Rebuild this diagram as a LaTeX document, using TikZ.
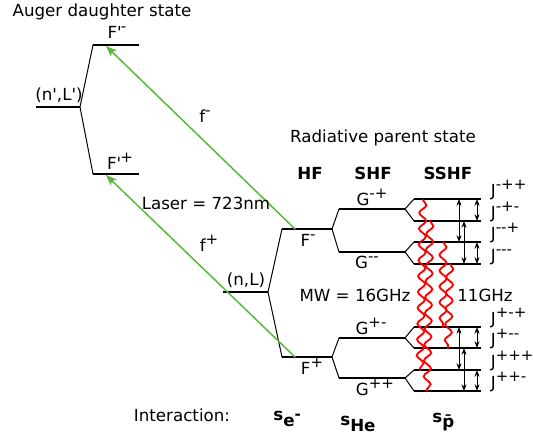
\documentclass[tikz,border=0pt]{standalone}
\usepackage{fontspec}
\setmainfont{DejaVu Sans}[Ligatures=TeXOff]
\usetikzlibrary{arrows.meta,calc,decorations.pathmorphing}
\definecolor{lasergreen}{RGB}{88,184,62}
\newcommand\raised[1]{\raisebox{.42em}{\small #1}}
\newcommand\lowered[1]{\raisebox{-4pt}{#1}}

\begin{document}
\begin{tikzpicture}[x=.6pt,y=-.6pt,line cap=round,
    lvl/.style={line width=1.7pt,line cap=butt},
    link/.style={line width=.6pt},
    laser/.style={draw=lasergreen,line width=.9pt,-{Stealth[length=6.5pt,width=5pt,inset=1.5pt]}},
    split/.style={line width=.6pt,{Stealth[length=4pt,width=3pt]}-{Stealth[length=4pt,width=3pt]}},
    mw/.style={draw=red,line width=1.1pt,decorate,
      decoration={snake,segment length=9.5pt,amplitude=2.1pt}}]
  \useasboundingbox (0,0) rectangle (533,439);
  % Auger daughter state: (n',L') split into F'- and F'+
  \coordinate (dL) at (36,107);  \coordinate (dR) at (80,107);
  \coordinate (dmL) at (93,45);  \coordinate (dmR) at (139,45);
  \coordinate (dpL) at (93,174); \coordinate (dpR) at (139,174);
  \draw[lvl] (dL) -- (dR);
  \draw[lvl] (dmL) -- (dmR);
  \draw[lvl] (dpL) -- (dpR);
  \draw[link] (dmL) -- (dR) -- (dpL);
  % Radiative parent state: (n,L) -> HF -> SHF -> SSHF
  \coordinate (pL) at (223,292); \coordinate (pR) at (268,292);
  \coordinate (FmL) at (282,229); \coordinate (FmR) at (332,229);
  \coordinate (FpL) at (282,357); \coordinate (FpR) at (332,357);
  \draw[lvl] (pL) -- (pR);
  \draw[lvl] (FmL) -- (FmR);
  \draw[lvl] (FpL) -- (FpR);
  \draw[link] (FmL) -- (pR) -- (FpL);
  \foreach \g/\y/\f in {Gmp/209/Fm,Gmm/252/Fm,Gpm/338/Fp,Gpp/378/Fp} {
    \coordinate (\g L) at (339,\y); \coordinate (\g R) at (405,\y);
    \draw[lvl] (\g L) -- (\g R);
    \draw[link] (\f R) -- (\g L);
  }
  \foreach \j/\y in {a/199,b/221,c/242,d/264,e/327,f/348,g/370,h/391} {
    \coordinate (J\j L) at (414,\y); \coordinate (J\j R) at (481,\y);
    \draw[lvl] (J\j L) -- (J\j R);
  }
  \draw[link] (JaL) -- (GmpR) -- (JbL);
  \draw[link] (JcL) -- (GmmR) -- (JdL);
  \draw[link] (JeL) -- (GpmR) -- (JfL);
  \draw[link] (JgL) -- (GppR) -- (JhL);
  % Splittings between the SSHF levels
  \foreach \p/\q in {a/b,c/d,e/f,g/h} {
    \draw[split] ($(J\p R)+(-4,0)$) -- ($(J\q R)+(-4,0)$);
  }
  \draw[split] ($(JaR)+(-22,0)$) -- ($(JcR)+(-22,0)$);
  \draw[split] ($(JbR)+(-17,0)$) -- ($(JdR)+(-17,0)$);
  \draw[split] ($(JeR)+(-22,0)$) -- ($(JgR)+(-22,0)$);
  \draw[split] ($(JfR)+(-17,0)$) -- ($(JhR)+(-17,0)$);
  % Microwave transitions
  \draw[mw] ($(JaL)+(9,1)$) -- ($(JgL)+(6,0)$);
  \draw[mw] ($(JbL)+(16,0)$) -- ($(JhL)+(13,0)$);
  \draw[mw] ($(JcL)+(29,0)$) -- ($(JeL)+(29,0)$);
  \draw[mw] ($(JdL)+(36,0)$) -- ($(JfL)+(34,0)$);
  % Laser transitions
  \coordinate (FmX) at (295,229); \coordinate (dmX) at (106,46);
  \coordinate (FpX) at (295,357); \coordinate (dpX) at (106,175);
  \draw[laser] (FmX) -- (dmX);
  \draw[laser] (FpX) -- (dpX);
  % Labels
  \node (daughter) at (102,12) {Auger daughter state};
  \node (parent) at (383,138) {Radiative parent state};
  \node (nlp) at (59,95) {(n',L')};
  \node (fdm) at (117,32) {F'\kern-.05em\raised{-}};
  \node (fdp) at (120,161) {F'\kern-.05em\raised{+}};
  \node (fm) at (205,116) {f\raised{-}};
  \node (fp) at (209,243) {f\raised{+}};
  \node (laserlbl) at (206,203) {Laser = 723nm};
  \node (nl) at (246,280) {(n,L)};
  \node[font=\bfseries] (hf) at (310,173) {HF};
  \node[font=\bfseries] (shf) at (373,173) {SHF};
  \node[font=\bfseries] (sshf) at (448,173) {SSHF};
  \node (fmlbl) at (308,240) {F\raised{-}};
  \node (fplbl) at (312,366) {F\raised{+}};
  \node (gmp) at (372,197) {G\raised{-+}};
  \node (gmm) at (367,262) {G\raised{--}};
  \node (gpm) at (371,326) {G\raised{+-}};
  \node (gpp) at (375,387) {G\raised{++}};
  \foreach \j/\y/\s in {a/199/-++,b/221/-+-,c/242/--+,d/264/---,
      e/327/+-+,f/348/+--,g/370/+++,h/391/++-} {
    \node[anchor=base west] (lbl\j) at (485,\y-3) {J\raised{\s}};
  }
  \node (mwlbl) at (355,295) {MW = 16GHz};
  \node (mwlbl2) at (485,295) {11GHz};
  \node (inter) at (182,415) {Interaction:};
  \node[font=\bfseries,anchor=base west,inner sep=0pt] (se) at (273,420)
    {s\lowered{e\raised{-}}};
  \node[font=\bfseries,anchor=base west,inner sep=0pt] (she) at (340,425)
    {s\lowered{He}};
  \node[font=\bfseries,anchor=base west,inner sep=0pt] (sp) at (432,422)
    {s\raisebox{-3pt}{\={p}}};
\end{tikzpicture}
\end{document}
